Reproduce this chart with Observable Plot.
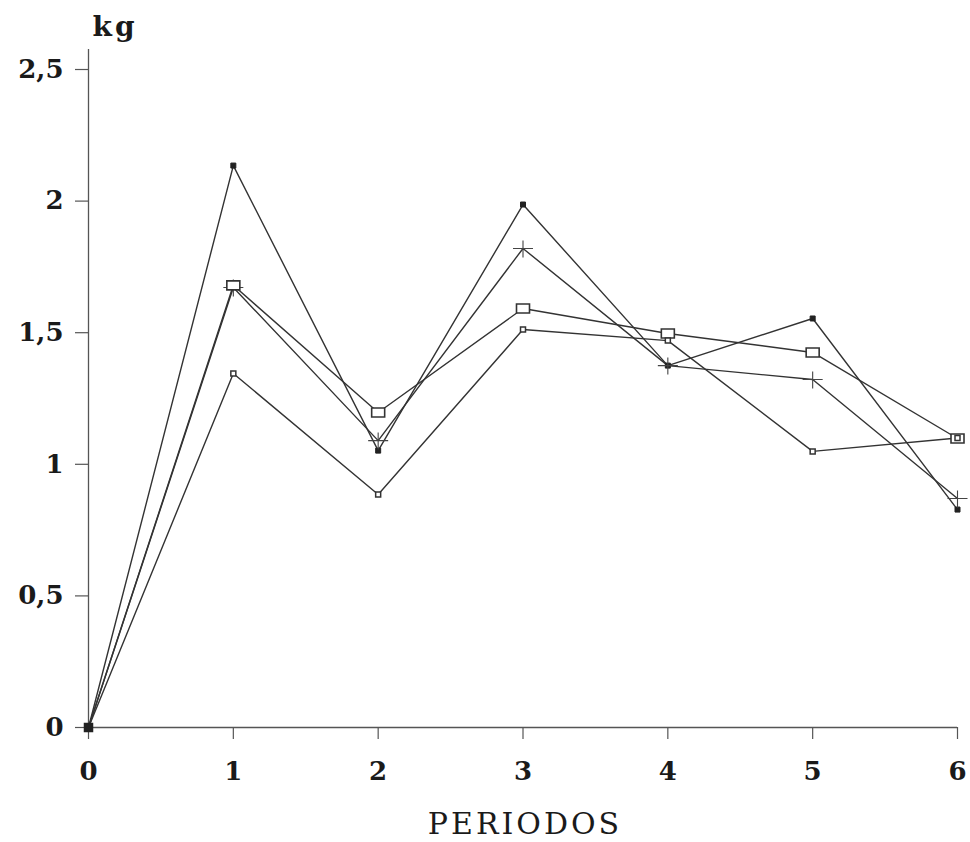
<!DOCTYPE html>
<html><head><meta charset="utf-8">
<script src="https://cdn.jsdelivr.net/npm/d3@7"></script>
<script src="https://cdn.jsdelivr.net/npm/@observablehq/plot@0.6"></script>
<style>body{margin:0;background:#fff}</style>
</head><body><div id="chart"></div>
<script>
const periods = [0, 1, 2, 3, 4, 5, 6];
const serieA = [0, 2.135, 1.052, 1.987, 1.375, 1.554, 0.828]; // small dark squares
const serieB = [0, 1.672, 1.090, 1.820, 1.375, 1.322, 0.870]; // plus
const serieC = [0, 1.680, 1.197, 1.592, 1.497, 1.425, 1.098]; // big open squares
const serieD = [0, 1.345, 0.885, 1.512, 1.470, 1.049, 1.100]; // small open squares
const yTicks = [0, 0.5, 1, 1.5, 2, 2.5];
const xTicks = [0, 1, 2, 3, 4, 5, 6];

const table = [];
[["A", serieA], ["B", serieB], ["C", serieC], ["D", serieD]].forEach(([name, vals]) => {
  vals.forEach((v, i) => table.push({series: name, period: periods[i], value: v}));
});

const rectSym = (w, h) => ({draw(ctx) { ctx.rect(-w / 2, -h / 2, w, h); }});
const plusSym = {draw(ctx) { ctx.moveTo(-10, 0); ctx.lineTo(10, 0); ctx.moveTo(0, -8); ctx.lineTo(0, 9); }};

const ink = "#333";
const chart = Plot.plot({
  width: 970, height: 842,
  marginTop: 49, marginBottom: 115, marginLeft: 88, marginRight: 13,
  x: {domain: [0, 6]},
  y: {domain: [0, 2.576]},
  style: {fontFamily: "DejaVu Serif", fontSize: "26px", color: "#1a1a1a", background: "#fff"},
  marks: [
    Plot.axisY(yTicks, {tickSize: 13, tickPadding: 12, tickFormat: d => String(d).replace(".", ","), label: null, stroke: "#555", strokeWidth: 1.2, fontSize: 26, fontWeight: "bold"}),
    Plot.axisX(xTicks, {tickSize: 12, tickPadding: 22, tickFormat: d => String(d), label: null, stroke: "#555", strokeWidth: 1.2, fontSize: 26, fontWeight: "bold"}),
    Plot.ruleX([0], {y1: 0, y2: 2.576, stroke: "#555", strokeWidth: 1.3}),
    Plot.ruleY([0], {stroke: "#555", strokeWidth: 1.3}),
    Plot.line(table, {x: "period", y: "value", z: "series", stroke: ink, strokeWidth: 1.4}),
    Plot.dot(table.filter(d => d.series === "A" && d.period > 0), {x: "period", y: "value", symbol: rectSym(5, 5), r: 3, fill: "#222", stroke: "#222", strokeWidth: 1}),
    Plot.dot(table.filter(d => d.series === "B" && d.period > 0), {x: "period", y: "value", symbol: plusSym, r: 3, fill: "none", stroke: "#444", strokeWidth: 1.1}),
    Plot.dot(table.filter(d => d.series === "C" && d.period > 0), {x: "period", y: "value", symbol: rectSym(13, 9), r: 3, fill: "#fff", stroke: "#333", strokeWidth: 1.6}),
    Plot.dot(table.filter(d => d.series === "D" && d.period > 0), {x: "period", y: "value", symbol: rectSym(5, 5), r: 3, fill: "#fff", stroke: "#333", strokeWidth: 1.5}),
    Plot.dot(table.filter(d => d.period === 0 && d.series === "A"), {x: "period", y: "value", symbol: rectSym(8, 8), r: 3, fill: "#222", stroke: "#222"}),
    Plot.text(["kg"], {text: d => d, frameAnchor: "top-left", textAnchor: "start", lineAnchor: "bottom", dx: 4, dy: -14, fontSize: 28, fontWeight: "bold"}),
    Plot.text(["PERIODOS"], {text: d => d, frameAnchor: "bottom", textAnchor: "middle", lineAnchor: "bottom", dy: 106, dx: 2, fontSize: 30})
  ]
});
d3.select(chart).selectAll("text").filter(function() { return this.textContent === "PERIODOS"; }).attr("letter-spacing", 3);
d3.select(chart).selectAll("text").filter(function() { return this.textContent === "kg"; }).attr("letter-spacing", 3);
document.getElementById("chart").appendChild(chart);
</script>
</body></html>
